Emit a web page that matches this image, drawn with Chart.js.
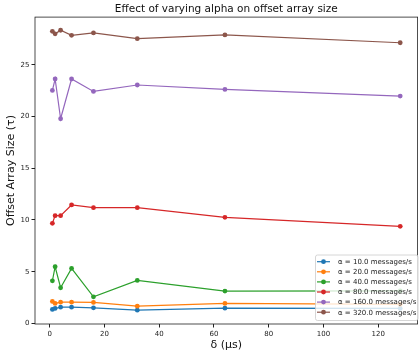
<!DOCTYPE html>
<html>
<head>
<meta charset="utf-8">
<script src="https://cdn.jsdelivr.net/npm/chart.js@4.4.1/dist/chart.umd.min.js"></script>
<style>
  html, body { margin: 0; padding: 0; background: #fff; }
  #wrap { width: 420px; height: 356px; position: relative; }
</style>
</head>
<body>
<div id="wrap"><canvas id="myChart"></canvas></div>
<script>
// delta values (us) on the x axis
const deltas = [1, 2, 4, 8, 16, 32, 64, 128];
const alphas = [10, 20, 40, 80, 160, 320];

// offset array size per alpha
const size10 = [1.36, 1.45, 1.58, 1.58, 1.51, 1.29, 1.48, 1.45];
const size20 = [2.13, 1.94, 2.06, 2.06, 2.03, 1.67, 1.94, 1.85];
const size40 = [4.12, 5.48, 3.45, 5.32, 2.58, 4.16, 3.13, 3.15];
const size80 = [9.68, 10.42, 10.42, 11.45, 11.19, 11.19, 10.26, 9.39];
const size160 = [22.52, 23.62, 19.78, 23.62, 22.42, 23.04, 22.61, 21.97];
const size320 = [28.23, 27.98, 28.33, 27.84, 28.07, 27.52, 27.88, 27.12];

const xTicks = [0, 20, 40, 60, 80, 100, 120];
const yTicks = [0, 5, 10, 15, 20, 25];

const colors = ['#1f77b4', '#ff7f0e', '#2ca02c', '#d62728', '#9467bd', '#8c564b'];
const allSizes = [size10, size20, size40, size80, size160, size320];
const font = "'DejaVu Sans', sans-serif";

const datasets = alphas.map((a, i) => ({
  label: 'α = ' + a.toFixed(1) + ' messages/s',
  data: deltas.map((d, j) => ({ x: d, y: allSizes[i][j] })),
  borderColor: colors[i],
  backgroundColor: colors[i],
  borderWidth: 1.2,
  pointRadius: 2.4,
  pointBorderWidth: 0,
  pointHoverRadius: 2.4,
  tension: 0,
  order: alphas.length - i
}));

// frame around the plot + matplotlib style legend in the lower right
const framePlugin = {
  id: 'frame',
  afterDraw(chart) {
    const { ctx, chartArea: a } = chart;
    ctx.save();
    ctx.strokeStyle = '#222';
    ctx.lineWidth = 0.8;
    ctx.strokeRect(a.left, a.top, a.right - a.left, a.bottom - a.top);

    const bx = 315.5, by = 255, bw = 102.5, bh = 65.5;
    ctx.fillStyle = 'rgba(255,255,255,0.8)';
    ctx.strokeStyle = '#cccccc';
    ctx.lineWidth = 0.8;
    ctx.beginPath();
    ctx.roundRect(bx, by, bw, bh, 2);
    ctx.fill();
    ctx.stroke();

    ctx.font = '7px ' + font;
    ctx.textBaseline = 'middle';
    datasets.forEach((ds, i) => {
      const y = 261.7 + i * 10.1;
      ctx.strokeStyle = ds.borderColor;
      ctx.lineWidth = 1.2;
      ctx.beginPath();
      ctx.moveTo(317, y);
      ctx.lineTo(330, y);
      ctx.stroke();
      ctx.fillStyle = ds.borderColor;
      ctx.beginPath();
      ctx.arc(323.5, y, 2.4, 0, Math.PI * 2);
      ctx.fill();
      ctx.fillStyle = '#222';
      ctx.fillText(ds.label, 338, y + 0.5);
    });
    ctx.restore();
  }
};

const ctx = document.getElementById('myChart').getContext('2d');
new Chart(ctx, {
  type: 'line',
  data: { datasets: datasets },
  plugins: [framePlugin],
  options: {
    responsive: true,
    maintainAspectRatio: false,
    animation: false,
    layout: { padding: { left: 0, right: 0.5, top: 0, bottom: 0 } },
    plugins: {
      legend: { display: false },
      tooltip: { enabled: false },
      title: {
        display: true,
        fullSize: false,
        text: 'Effect of varying alpha on offset array size',
        color: '#111',
        font: { family: font, size: 10.5, weight: 'normal' },
        padding: { top: 2.5, bottom: 2 }
      }
    },
    scales: {
      x: {
        type: 'linear',
        min: -5.35,
        max: 134.35,
        afterFit: (s) => { s.height = 32; },
        afterBuildTicks: (s) => { s.ticks = xTicks.map(v => ({ value: v })); },
        border: { display: false },
        grid: { display: true, drawOnChartArea: false, drawTicks: true, tickLength: 3.5, color: '#222' },
        ticks: { color: '#222', font: { family: font, size: 7 }, padding: 2, maxRotation: 0 },
        title: {
          display: true,
          text: 'δ (μs)',
          color: '#111',
          font: { family: font, size: 11 },
          padding: { top: 4.4, bottom: 4.4 }
        }
      },
      y: {
        min: -0.05,
        max: 29.6,
        afterFit: (s) => { s.width = 35; },
        afterBuildTicks: (s) => { s.ticks = yTicks.map(v => ({ value: v })); },
        border: { display: false },
        grid: { display: true, drawOnChartArea: false, drawTicks: true, tickLength: 3.5, color: '#222' },
        ticks: { color: '#222', font: { family: font, size: 7 }, padding: 2 },
        title: {
          display: true,
          text: 'Offset Array Size (τ)',
          color: '#111',
          font: { family: font, size: 11 },
          padding: { top: 5, bottom: 0 }
        }
      }
    }
  }
});
</script>
</body>
</html>
